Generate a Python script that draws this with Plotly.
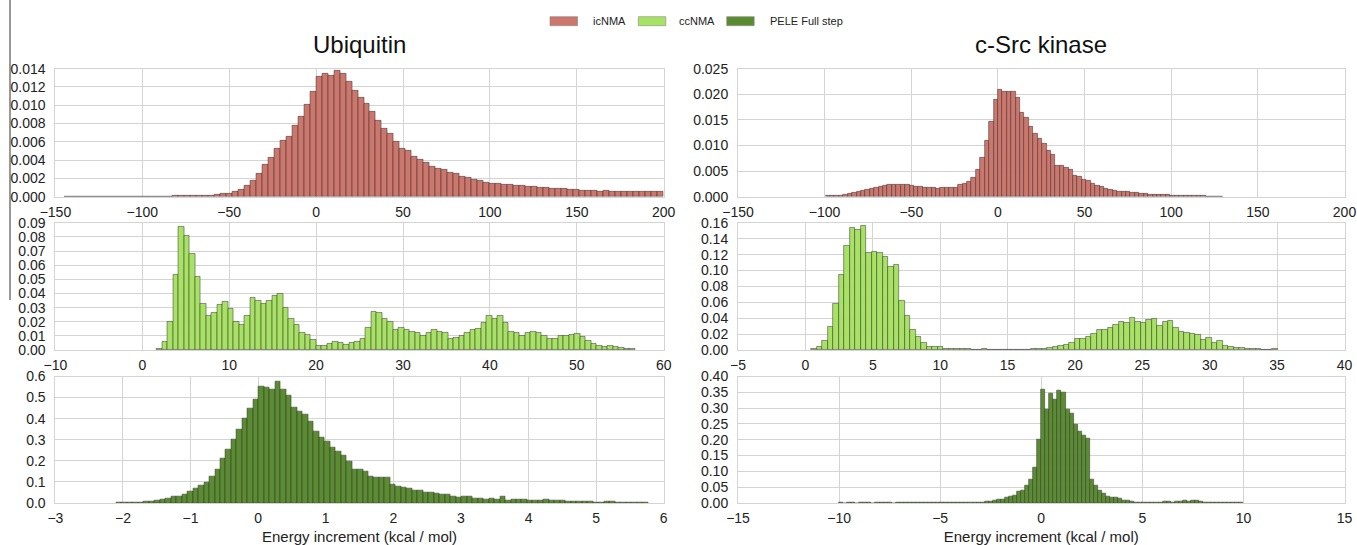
import plotly.graph_objects as go

# ------------------------------------------------------------------ data
# Each histogram: first bin edge, bin width, normalised bin heights
ubi_ic_start, ubi_ic_width = -145.0, 3.45
ubi_ic = [0.00002] * 15 + [
    0.00003, 0.00004, 0.00005, 0.00006, 0.00007, 0.00008, 0.0001, 0.0001,
    0.00012, 0.00015, 0.0002, 0.0003, 0.0003, 0.0005, 0.0008, 0.0012, 0.0018, 0.0025,
    0.0035, 0.0043, 0.0052, 0.0061, 0.0066, 0.0078, 0.0087, 0.0101, 0.0115, 0.0131,
    0.0135, 0.0132, 0.0138, 0.0134, 0.0126, 0.0116, 0.0108, 0.0102, 0.0093, 0.0083,
    0.0074, 0.0069, 0.0060, 0.0053, 0.0050, 0.0044, 0.0040, 0.0037, 0.0033, 0.0031,
    0.0029, 0.0026, 0.0025, 0.0022, 0.0021, 0.0019, 0.0017, 0.0015, 0.0014, 0.0014,
    0.0013, 0.0013, 0.0012, 0.0012, 0.0011, 0.0011, 0.0010, 0.0010, 0.0009, 0.0009,
    0.0009, 0.0008, 0.0008, 0.0007, 0.0007, 0.0007, 0.0006, 0.0007, 0.0006, 0.0006,
    0.0006, 0.0006, 0.0005, 0.0005, 0.0005, 0.0005, 0.0005]

cs_ic_start, cs_ic_width = -99.45, 2.55
cs_ic = [
    0.0001, 0.0001, 0.0002, 0.0002, 0.0003, 0.0005, 0.0008, 0.0010, 0.0012, 0.0013,
    0.0015, 0.0018, 0.0020, 0.0021, 0.0023, 0.0023, 0.0023, 0.0023, 0.0023, 0.0022,
    0.0019, 0.0019, 0.0018, 0.0018, 0.0018, 0.0015, 0.0018, 0.0018, 0.0018, 0.0018,
    0.0024, 0.0026, 0.0030, 0.0038, 0.0052, 0.0077, 0.0109, 0.0147, 0.0190, 0.0209,
    0.0206, 0.0206, 0.0206, 0.0194, 0.0165, 0.0154, 0.0137, 0.0124, 0.0114, 0.0103,
    0.0090, 0.0082, 0.0061, 0.0060, 0.0056, 0.0052, 0.0042, 0.0039, 0.0034, 0.0031,
    0.0026, 0.0021, 0.0020, 0.0016, 0.0014, 0.0012, 0.0010, 0.0009, 0.0009, 0.0008,
    0.0007, 0.0006, 0.0005, 0.0004, 0.0004, 0.0003, 0.0003, 0.0003, 0.0002, 0.0002,
    0.0002, 0.0001, 0.0001, 0.0001, 0.0001, 0.0001, 0.00005, 0.00005, 0.00005, 0.00005]

ubi_cc_start, ubi_cc_width = 1.65, 0.633
ubi_cc = [
    0.001, 0.006, 0.020, 0.053, 0.087, 0.081, 0.068, 0.052, 0.033, 0.024,
    0.026, 0.032, 0.034, 0.029, 0.020, 0.018, 0.024, 0.037, 0.035, 0.033,
    0.035, 0.038, 0.040, 0.030, 0.022, 0.018, 0.012, 0.011, 0.007, 0.003,
    0.003, 0.0045, 0.006, 0.005, 0.0035, 0.005, 0.006, 0.008, 0.016, 0.027,
    0.026, 0.022, 0.020, 0.014, 0.016, 0.014, 0.013, 0.012, 0.0097, 0.012,
    0.014, 0.013, 0.012, 0.008, 0.0087, 0.010, 0.0125, 0.014, 0.015, 0.0195,
    0.024, 0.022, 0.024, 0.019, 0.0127, 0.012, 0.0097, 0.012, 0.013, 0.012,
    0.0103, 0.008, 0.008, 0.0097, 0.0099, 0.011, 0.0115, 0.0092, 0.0064, 0.0045,
    0.0028, 0.0024, 0.003, 0.0026, 0.0019, 0.001, 0.0005]

cs_cc_start, cs_cc_width = 0.45, 0.407
cs_cc = [
    0.0013, 0.0046, 0.012, 0.029, 0.058, 0.095, 0.131, 0.154, 0.151, 0.156,
    0.122, 0.123, 0.122, 0.117, 0.105, 0.107, 0.062, 0.043, 0.025, 0.017,
    0.009, 0.0046, 0.004, 0.0038, 0.0017, 0.0013, 0.0013, 0.0013, 0.0017, 0.0008,
    0.0, 0.0017, 0.0, 0.0, 0.0, 0.0, 0.0, 0.0, 0.0, 0.0,
    0.0017, 0.0017, 0.002, 0.003, 0.004, 0.0054, 0.007, 0.0096, 0.014, 0.014,
    0.016, 0.020, 0.0255, 0.0255, 0.028, 0.032, 0.0355, 0.0345, 0.0405, 0.0355,
    0.034, 0.038, 0.039, 0.0305, 0.0355, 0.0365, 0.028, 0.023, 0.022, 0.020,
    0.019, 0.013, 0.0155, 0.0096, 0.011, 0.005, 0.004, 0.003, 0.0025, 0.002,
    0.002, 0.0013, 0.0, 0.0, 0.0013]

ubi_pele_start, ubi_pele_width = -2.10, 0.0811
ubi_pele = [
    0.002, 0.002, 0.002, 0.002, 0.003, 0.005, 0.008, 0.011, 0.016, 0.021,
    0.029, 0.030, 0.038, 0.054, 0.067, 0.083, 0.095, 0.124, 0.160, 0.210,
    0.252, 0.300, 0.348, 0.402, 0.449, 0.490, 0.551, 0.549, 0.540, 0.578,
    0.537, 0.508, 0.452, 0.435, 0.422, 0.386, 0.340, 0.313, 0.294, 0.262,
    0.244, 0.227, 0.197, 0.160, 0.159, 0.151, 0.127, 0.119, 0.119, 0.119,
    0.087, 0.079, 0.075, 0.068, 0.059, 0.059, 0.052, 0.051, 0.044, 0.041,
    0.041, 0.029, 0.024, 0.029, 0.032, 0.022, 0.019, 0.017, 0.022, 0.017,
    0.029, 0.014, 0.017, 0.017, 0.017, 0.011, 0.011, 0.013, 0.016, 0.011,
    0.010, 0.010, 0.008, 0.008, 0.008, 0.006, 0.008, 0.003, 0.003, 0.005,
    0.005, 0.003, 0.003, 0.003, 0.003, 0.003, 0.003]

cs_pele_start, cs_pele_width = -10.0, 0.2
cs_pele = [
    0.001, 0.0, 0.001, 0.001, 0.0, 0.001, 0.001, 0.001, 0.0, 0.001,
    0.001, 0.001, 0.001, 0.0, 0.001,
    0.002, 0.001, 0.002, 0.003, 0.002, 0.002, 0.001, 0.002, 0.002, 0.002,
    0.003, 0.003, 0.003, 0.002, 0.003, 0.003, 0.002, 0.003, 0.003, 0.003,
    0.003, 0.004, 0.006, 0.008, 0.010, 0.012, 0.016, 0.022, 0.025, 0.035,
    0.040, 0.055, 0.075, 0.113, 0.200,
    0.360, 0.297, 0.346, 0.327, 0.355, 0.350, 0.295, 0.282, 0.247, 0.225,
    0.215, 0.205,
    0.075, 0.056, 0.040, 0.030, 0.022, 0.017, 0.018, 0.013, 0.009, 0.007,
    0.004, 0.003, 0.002, 0.002, 0.002,
    0.002, 0.002, 0.003, 0.005, 0.004, 0.003, 0.005, 0.006, 0.007, 0.004,
    0.007, 0.008, 0.005, 0.003, 0.002,
    0.002, 0.002, 0.001, 0.002, 0.001, 0.001, 0.001, 0.001]

series_names = ["icNMA", "ccNMA", "PELE Full step"]
panel_titles = ["Ubiquitin", "c-Src kinase"]
x_title = "Energy increment (kcal / mol)"

# axis ranges / tick steps per panel
x_ranges = [(-150, 200), (-150, 200), (-10, 60), (-5, 40), (-3, 6), (-15, 15)]
x_dticks = [50, 50, 10, 5, 1, 5]
y_ranges = [(0, 0.014), (0, 0.025), (0, 0.09), (0, 0.16), (0, 0.6), (0, 0.40)]
y_dticks = [0.002, 0.005, 0.01, 0.02, 0.1, 0.05]
y_formats = [".3f", ".3f", ".2f", ".2f", ".1f", ".2f"]

# ------------------------------------------------------------------ style
W, H = 1357, 545
FILLS = ["#cc766c", "#a8e264", "#5b8c32"]
EDGE = "rgba(45,45,45,0.7)"
GRID = "#d4d4d4"
FONT = "Liberation Sans"

col_dom = [[55.4 / W, 663.7 / W], [738.0 / W, 1344.5 / W]]
row_dom = [[1 - 196.7 / H, 1 - 68.7 / H],
           [1 - 350.0 / H, 1 - 222.8 / H],
           [1 - 503.0 / H, 1 - 376.5 / H]]

panels = [
    (ubi_ic, ubi_ic_start, ubi_ic_width, 0),
    (cs_ic, cs_ic_start, cs_ic_width, 0),
    (ubi_cc, ubi_cc_start, ubi_cc_width, 1),
    (cs_cc, cs_cc_start, cs_cc_width, 1),
    (ubi_pele, ubi_pele_start, ubi_pele_width, 2),
    (cs_pele, cs_pele_start, cs_pele_width, 2),
]

fig = go.Figure()
layout_axes = {}
for k, (vals, start, width, s) in enumerate(panels):
    n = k + 1
    row, col = k // 2, k % 2
    centers = [start + width * (i + 0.5) for i in range(len(vals))]
    fig.add_trace(go.Bar(
        x=centers, y=vals, width=width, name=series_names[s],
        marker=dict(color=FILLS[s], line=dict(color=EDGE, width=0.7)),
        xaxis="x" if n == 1 else f"x{n}", yaxis="y" if n == 1 else f"y{n}",
        showlegend=False,
    ))
    xa = dict(
        domain=col_dom[col], range=list(x_ranges[k]), dtick=x_dticks[k], tick0=0,
        showgrid=True, gridcolor=GRID, gridwidth=1, zeroline=False,
        showline=True, mirror=True, linecolor=GRID, linewidth=1,
        ticks="outside", ticklen=2, tickcolor="rgba(0,0,0,0)",
        tickfont=dict(family=FONT, size=14, color="#222222"),
        anchor="y" if n == 1 else f"y{n}", automargin=False,
    )
    if row == 2:
        xa["title"] = dict(text=x_title, standoff=7,
                           font=dict(family=FONT, size=15, color="#222222"))
    ya = dict(
        domain=row_dom[row], range=list(y_ranges[k]), dtick=y_dticks[k], tick0=0,
        tickformat=y_formats[k],
        showgrid=True, gridcolor=GRID, gridwidth=1, zeroline=False,
        showline=True, mirror=True, linecolor=GRID, linewidth=1,
        ticks="outside", ticklen=6, tickcolor="rgba(0,0,0,0)",
        tickfont=dict(family=FONT, size=14, color="#222222"),
        anchor="x" if n == 1 else f"x{n}", automargin=False,
    )
    layout_axes["xaxis" if n == 1 else f"xaxis{n}"] = xa
    layout_axes["yaxis" if n == 1 else f"yaxis{n}"] = ya

fig.update_layout(**layout_axes)

# panel titles
annotations = []
for c in range(2):
    annotations.append(dict(
        text=panel_titles[c], x=sum(col_dom[c]) / 2, y=1 - 45.0 / H,
        xref="paper", yref="paper", xanchor="center", yanchor="middle",
        showarrow=False, font=dict(family=FONT, size=24, color="#111111")))

# legend (drawn as swatches + text at the top centre)
shapes = []
swatch_x = [550.0, 638.3, 726.7]
text_x = [590.7, 676.7, 768.3]
for s in range(3):
    shapes.append(dict(type="rect", xref="paper", yref="paper",
                       x0=swatch_x[s] / W, x1=(swatch_x[s] + 27.5) / W,
                       y0=1 - 25.7 / H, y1=1 - 16.7 / H,
                       fillcolor=FILLS[s], line=dict(color="#888888", width=0.6)))
    annotations.append(dict(
        text=series_names[s], x=text_x[s] / W, y=1 - 21.2 / H,
        xref="paper", yref="paper", xanchor="left", yanchor="middle",
        showarrow=False, font=dict(family=FONT, size=11, color="#222222")))

# thin vertical rule at the far left of the figure
shapes.append(dict(type="line", xref="paper", yref="paper",
                   x0=10.0 / W, x1=10.0 / W, y0=1.0, y1=1 - 300.0 / H,
                   line=dict(color="#333333", width=1)))

fig.update_layout(
    width=W, height=H,
    margin=dict(l=0, r=0, t=0, b=0),
    paper_bgcolor="white", plot_bgcolor="white",
    bargap=0, barmode="overlay",
    font=dict(family=FONT, size=13, color="#222222"),
    annotations=annotations, shapes=shapes,
    showlegend=False,
)

fig.write_html("out.html",
               config={"displayModeBar": False},
               post_script="document.body.style.margin='0';"
                           "document.body.style.overflow='hidden';")
